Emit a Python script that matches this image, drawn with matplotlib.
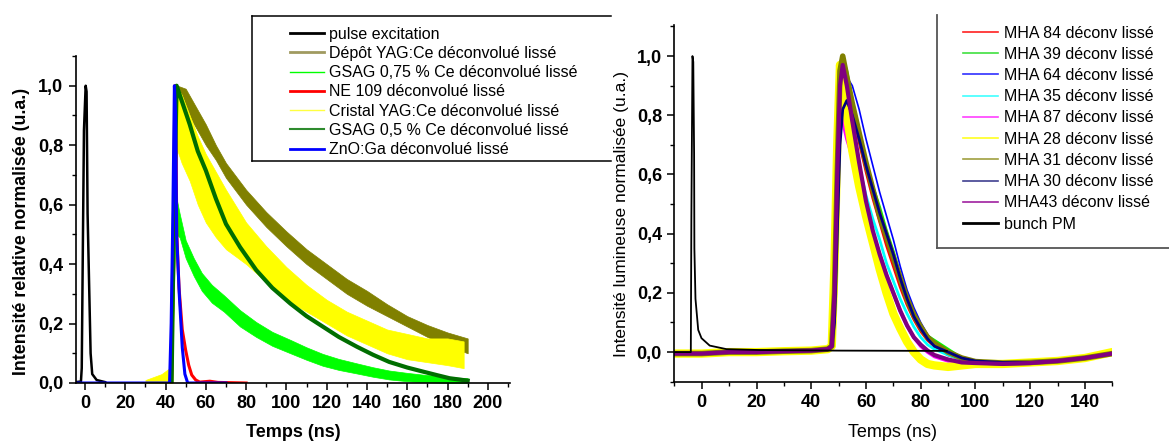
import matplotlib
matplotlib.use("Agg")
import matplotlib.pyplot as plt
from matplotlib.lines import Line2D
from matplotlib.ticker import MultipleLocator, FuncFormatter

plt.rcParams["font.family"] = ["Liberation Sans", "DejaVu Sans"]

# ---------- panneau gauche : déclins normalisés ----------
t_pulse = [-4.5, -2, -1.6, -1.1, -0.5, 0.35, 0.8, 1.3, 2.1, 2.8, 3.6, 5.8, 10]
pulse = [0.003, 0.005, 0.05, 0.42, 0.85, 1.0, 0.98, 0.57, 0.32, 0.1, 0.03, 0.01, 0.003]

t_depot = [43, 44.5, 46, 50, 55, 60, 65, 70, 80, 90, 100, 110, 120, 130, 140, 150, 160, 170, 180, 190]
depot_haut = [0.0, 0.6, 1.0, 0.99, 0.93, 0.87, 0.80, 0.74, 0.65, 0.575, 0.51, 0.45, 0.40, 0.35, 0.31, 0.265, 0.225, 0.195, 0.17, 0.15]
depot_bas = [0.0, 0.4, 0.95, 0.92, 0.86, 0.8, 0.75, 0.69, 0.6, 0.525, 0.46, 0.4, 0.35, 0.3, 0.26, 0.225, 0.19, 0.155, 0.125, 0.1]

t_gsag075 = [43, 44.5, 45.5, 47, 50, 54, 58, 63, 69, 77, 85, 93, 102, 110, 118, 126, 135, 143, 151, 160, 168, 181, 190]
gsag075_haut = [0.0, 0.64, 0.62, 0.57, 0.48, 0.42, 0.37, 0.33, 0.295, 0.245, 0.205, 0.172, 0.145, 0.12, 0.098, 0.081, 0.066, 0.053, 0.042, 0.034, 0.028, 0.02, 0.016]
gsag075_bas = [0.0, 0.45, 0.5, 0.49, 0.42, 0.36, 0.31, 0.27, 0.24, 0.19, 0.155, 0.125, 0.1, 0.078, 0.058, 0.044, 0.032, 0.021, 0.012, 0.006, 0.003, 0.0, 0.0]

t_ne109 = [43, 44, 44.6, 45.2, 45.6, 46.7, 48.3, 50, 51.5, 53, 55, 57, 62, 66, 80]
ne109 = [0, 0.5, 1.0, 0.8, 0.5, 0.32, 0.18, 0.11, 0.06, 0.027, 0.01, 0.003, 0.006, 0.002, 0.0]

t_cristal = [30, 38, 42, 43.5, 45, 48, 52, 56, 60, 65, 70, 80, 90, 100, 110, 120, 130, 140, 150, 160, 170, 180, 188]
cristal_haut = [0.01, 0.03, 0.05, 0.6, 1.0, 0.97, 0.9, 0.83, 0.77, 0.71, 0.65, 0.54, 0.46, 0.39, 0.33, 0.28, 0.24, 0.21, 0.18, 0.165, 0.15, 0.15, 0.14]
cristal_bas = [0.0, 0.0, 0.0, 0.0, 0.8, 0.74, 0.68, 0.6, 0.54, 0.49, 0.45, 0.4, 0.34, 0.28, 0.24, 0.2, 0.16, 0.13, 0.1, 0.08, 0.07, 0.06, 0.05]

t_gsag05 = [43, 44, 45.5, 48, 52, 56, 60, 65, 70, 77, 85, 93, 102, 110, 118, 126, 135, 143, 151, 160, 168, 175, 181, 190]
gsag05 = [0, 0.5, 1.0, 0.95, 0.87, 0.78, 0.715, 0.62, 0.535, 0.457, 0.38, 0.32, 0.267, 0.225, 0.19, 0.155, 0.122, 0.095, 0.071, 0.052, 0.038, 0.026, 0.016, 0.008]

t_zno = [-4.5, 42, 42.8, 43.6, 44.4, 45, 45.5, 46.8, 48.3, 49.6, 51, 70]
zno = [0, 0, 0.2, 0.55, 1.0, 0.9, 0.5, 0.3, 0.12, 0.03, 0, 0]

noms_gauche = ["pulse excitation", "Dépôt YAG:Ce déconvolué lissé", "GSAG 0,75 % Ce déconvolué lissé",
               "NE 109 déconvolué lissé", "Cristal YAG:Ce déconvolué lissé", "GSAG 0,5 % Ce déconvolué lissé",
               "ZnO:Ga déconvolué lissé"]

# ---------- panneau droit : MHA ----------
t_bunch = [-10, -4, -3.8, -3.4, -3.1, -2.8, -2.7, -2.3, -1.3, -0.1, 2.9, 9, 21, 50, 89.5]
bunch = [0.0, 0.0, 0.45, 1.0, 0.98, 0.67, 0.35, 0.18, 0.075, 0.047, 0.022, 0.01, 0.007, 0.005, 0.004]

t_mha = [-10, 0, 10, 20, 30, 40, 46, 47.5, 48.5, 49.5, 50.5, 51.5, 53, 55, 57.5, 60, 62.5, 65,
         67.5, 70, 72.5, 75, 77.5, 80, 82.5, 85, 90, 95, 100, 110, 120, 130, 140, 150]
base = [-0.005, -0.005, 0.0, 0.0, 0.003, 0.005, 0.01, 0.02]
mha84 = base + [0.2, 0.6, 0.92, 0.98, 0.92, 0.82, 0.71, 0.61, 0.52, 0.44, 0.36, 0.29, 0.22, 0.16, 0.11, 0.07, 0.04, 0.02,
                -0.01, -0.025, -0.032, -0.037, -0.035, -0.03, -0.02, -0.005]
mha39 = base + [0.15, 0.55, 0.9, 0.99, 0.95, 0.85, 0.74, 0.64, 0.56, 0.49, 0.41, 0.34, 0.26, 0.19, 0.13, 0.09, 0.055, 0.04,
                0.01, -0.02, -0.03, -0.035, -0.035, -0.03, -0.02, -0.005]
mha64 = base + [0.1, 0.45, 0.8, 0.9, 0.93, 0.9, 0.82, 0.72, 0.63, 0.54, 0.46, 0.38, 0.29, 0.21, 0.15, 0.1, 0.06, 0.03,
                0.0, -0.02, -0.03, -0.035, -0.035, -0.03, -0.02, -0.005]
mha35 = base + [0.25, 0.7, 0.98, 0.93, 0.86, 0.74, 0.63, 0.53, 0.45, 0.38, 0.3, 0.24, 0.18, 0.13, 0.085, 0.05, 0.025, 0.01,
                -0.01, -0.025, -0.032, -0.037, -0.035, -0.03, -0.02, -0.005]
mha87 = base + [0.3, 0.75, 0.95, 0.78, 0.72, 0.66, 0.57, 0.48, 0.4, 0.33, 0.26, 0.2, 0.14, 0.09, 0.05, 0.02, 0.0, -0.015,
                -0.03, -0.035, -0.035, -0.04, -0.035, -0.03, -0.02, -0.005]
mha28 = base + [0.3, 0.7, 0.97, 0.9, 0.8, 0.68, 0.56, 0.46, 0.37, 0.28, 0.2, 0.13, 0.08, 0.035, 0.0, -0.025, -0.04, -0.045,
                -0.05, -0.045, -0.04, -0.04, -0.035, -0.03, -0.02, 0.0]
mha31 = base + [0.2, 0.6, 0.95, 1.0, 0.93, 0.84, 0.74, 0.64, 0.55, 0.46, 0.39, 0.32, 0.25, 0.18, 0.125, 0.085, 0.05, 0.03,
                0.0, -0.02, -0.032, -0.037, -0.035, -0.03, -0.02, -0.005]
mha30 = base + [0.1, 0.4, 0.7, 0.82, 0.85, 0.8, 0.72, 0.63, 0.55, 0.47, 0.4, 0.33, 0.25, 0.18, 0.12, 0.08, 0.045, 0.02,
                0.0, -0.02, -0.03, -0.035, -0.035, -0.03, -0.02, -0.005]
mha43 = base + [0.2, 0.6, 0.9, 0.97, 0.9, 0.78, 0.64, 0.51, 0.41, 0.33, 0.26, 0.2, 0.14, 0.09, 0.05, 0.025, 0.005, -0.01,
                -0.025, -0.035, -0.037, -0.04, -0.037, -0.03, -0.02, -0.005]

noms_droite = ["MHA 84 déconv lissé", "MHA 39 déconv lissé", "MHA 64 déconv lissé", "MHA 35 déconv lissé",
               "MHA 87 déconv lissé", "MHA 28 déconv lissé", "MHA 31 déconv lissé", "MHA 30 déconv lissé",
               "MHA43 déconv lissé", "bunch PM"]

virgule = FuncFormatter(lambda v, p: f"{round(v, 1) + 0.0:.1f}".replace(".", ","))

W, H = 1169, 441
fig = plt.figure(figsize=(11.69, 4.41), dpi=100)


def style_axes(ax, xmaj, ymaj):
    for s in ["top", "right"]:
        ax.spines[s].set_visible(False)
    for s in ["left", "bottom"]:
        ax.spines[s].set_linewidth(1.2)
    ax.xaxis.set_major_locator(MultipleLocator(xmaj))
    ax.xaxis.set_minor_locator(MultipleLocator(xmaj / 2))
    ax.yaxis.set_major_locator(MultipleLocator(ymaj))
    ax.yaxis.set_minor_locator(MultipleLocator(ymaj / 2))
    ax.yaxis.set_major_formatter(virgule)
    ax.tick_params(which="major", direction="out", length=5, width=1.1, pad=4, labelsize=13)
    ax.tick_params(which="minor", direction="out", length=3, width=1.0)
    for lab in ax.get_xticklabels() + ax.get_yticklabels():
        lab.set_fontweight("bold")


# gauche
ax1 = fig.add_axes([75.7 / W, 1 - 383 / H, (510 - 75.7) / W, (383 - 56) / H])
ax1.plot(t_pulse, pulse, color="black", lw=1.8)
ax1.fill_between(t_depot, depot_bas, depot_haut, color="#808000", lw=0.5)
ax1.fill_between(t_gsag075, gsag075_bas, gsag075_haut, color="#00ff00", lw=0.5)
ax1.plot(t_ne109, ne109, color="#ff0000", lw=2.2)
ax1.fill_between(t_cristal, cristal_bas, cristal_haut, color="#ffff00", lw=0.5)
ax1.plot(t_gsag05, gsag05, color="#006e00", lw=3)
ax1.plot(t_zno, zno, color="#0000ff", lw=2.2)
ax1.set_xlim(-4.6, 211)
ax1.set_ylim(0, 1.1)
style_axes(ax1, 20, 0.2)
ax1.set_xlabel("Temps (ns)", fontsize=13, fontweight="bold")
ax1.set_ylabel("Intensité relative normalisée (u.a.)", fontsize=12.8, fontweight="bold")
ax1.xaxis.set_label_coords(0.5, -0.125)
ax1.yaxis.set_label_coords(-0.105, 0.462)

couleurs_g = ["black", "#a09a60", "#00ff00", "#ff0000", "#ffff40", "#2e8b2e", "#0000ff"]
ep_g = [2, 2, 1, 2, 1, 1.5, 2]
poign_g = [Line2D([], [], color=c, lw=w) for c, w in zip(couleurs_g, ep_g)]
fig.legend(poign_g, noms_gauche, loc="upper left", bbox_to_anchor=(290 / W, 1 - 26.5 / H),
           frameon=False, fontsize=11.5, handlelength=2.15, handletextpad=0.3,
           labelspacing=0.27, borderpad=0, borderaxespad=0)
for (x0, y0, x1, y1) in [(252, 16, 611, 16), (252, 16, 252, 161), (252, 161, 611, 161)]:
    fig.add_artist(Line2D([x0 / W, x1 / W], [1 - y0 / H, 1 - y1 / H], color="black", lw=1.1,
                          transform=fig.transFigure))

# droite
ax2 = fig.add_axes([674.4 / W, 1 - 381.7 / H, (1112.3 - 674.4) / W, (381.7 - 25) / H])
series_d = [mha84, mha39, mha64, mha35, mha87, mha28, mha31, mha30, mha43]
couleurs_d = ["#ff0000", "#00ff00", "#0000ff", "#00ffff", "#ff00ff", "#ffff00", "#808000", "#000080", "#800080"]
ep_d = [2, 2, 1.2, 2, 2.5, 6, 4, 2, 3]
for y, c, w in zip(series_d, couleurs_d, ep_d):
    ax2.plot(t_mha, y, color=c, lw=w)
ax2.plot(t_bunch, bunch, color="black", lw=1.3)
ax2.set_xlim(-10, 150)
ax2.set_ylim(-0.1, 1.105)
style_axes(ax2, 20, 0.2)
ax2.set_xlabel("Temps (ns)", fontsize=13)
ax2.set_ylabel("Intensité lumineuse normalisée (u.a.)", fontsize=12.5)
ax2.xaxis.set_label_coords(0.498, -0.118)
ax2.yaxis.set_label_coords(-0.104, 0.47)

couleurs_leg_d = ["#ff2020", "#40e040", "#3030ff", "#40ffff", "#ff40ff", "#ffff20", "#a0a040", "#404090", "#a020a0", "black"]
poign_d = [Line2D([], [], color=c, lw=1.2 if c != "black" else 2) for c in couleurs_leg_d]
fig.legend(poign_d, noms_droite, loc="upper left", bbox_to_anchor=(963 / W, 1 - 25.5 / H),
           frameon=False, fontsize=11.5, handlelength=2.2, handletextpad=0.35,
           labelspacing=0.39, borderpad=0, borderaxespad=0)
for (x0, y0, x1, y1) in [(937, 15, 937, 248), (937, 248, 1169, 248)]:
    fig.add_artist(Line2D([x0 / W, x1 / W], [1 - y0 / H, 1 - y1 / H], color="#555555", lw=1.3,
                          transform=fig.transFigure))

fig.savefig("out.png", dpi=100)
